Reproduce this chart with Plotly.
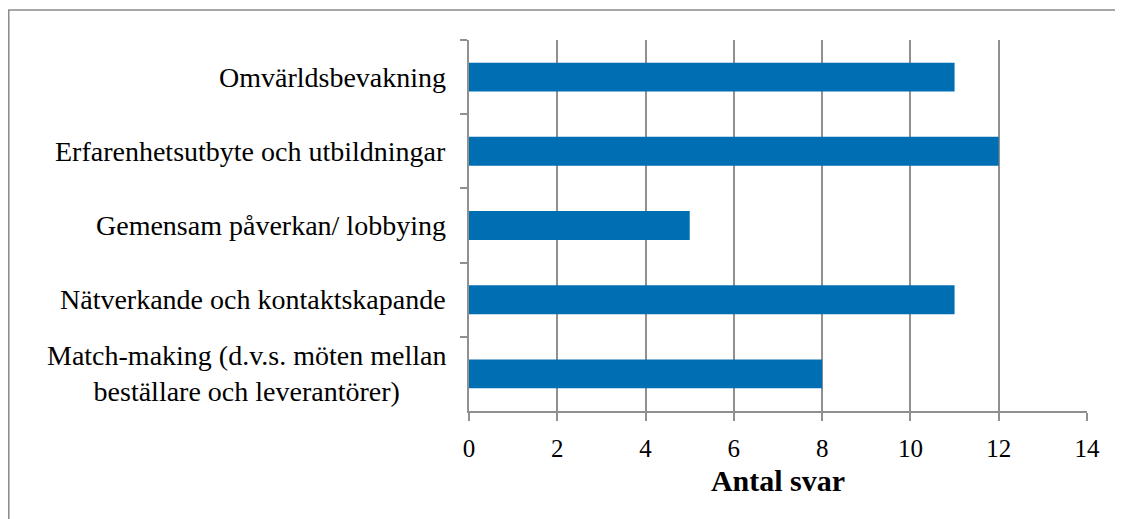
import plotly.graph_objects as go

categories = [
    "Omvärldsbevakning",
    "Erfarenhetsutbyte och utbildningar",
    "Gemensam påverkan/ lobbying",
    "Nätverkande och kontaktskapande",
    "Match-making (d.v.s. möten mellan<br>beställare och leverantörer)",
]
answers = [11, 12, 5, 11, 8]
x_ticks = [0, 2, 4, 6, 8, 10, 12, 14]

FONT = "Liberation Serif"
GRID = "#909090"
BAR = "#006EB2"


def build_figure():
    fig = go.Figure()
    fig.add_trace(go.Bar(
        x=answers,
        y=categories,
        orientation="h",
        marker=dict(color=BAR, line=dict(width=0)),
        hoverinfo="x+y",
    ))

    # category labels as annotations so that the two-line label stays centred
    for cat in categories:
        fig.add_annotation(
            x=0, xref="paper", y=cat, yref="y",
            text=cat, showarrow=False,
            xanchor="right", yanchor="middle", align="center",
            xshift=-21,
            font=dict(family=FONT, size=28, color="black"),
        )

    # outer frame of the chart area (only top and left visible)
    fig.add_shape(
        type="rect", xref="paper", yref="paper",
        x0=-0.7447, x1=1.08, y0=-0.35, y1=1.0809,
        line=dict(color="#8a8a8a", width=1.5),
        layer="below",
    )

    fig.update_layout(
        width=1115,
        height=511,
        margin=dict(l=461, r=36, t=32, b=108),
        plot_bgcolor="white",
        paper_bgcolor="white",
        bargap=0.61,
        showlegend=False,
        xaxis=dict(
            range=[0, 14],
            tickvals=x_ticks,
            ticktext=[str(v) for v in x_ticks],
            showgrid=True,
            gridcolor=GRID,
            gridwidth=1.6,
            zeroline=False,
            showline=True,
            linecolor=GRID,
            linewidth=1.6,
            ticks="outside",
            ticklen=8,
            tickcolor=GRID,
            tickwidth=1.6,
            ticklabelstandoff=6,
            tickfont=dict(family=FONT, size=25, color="black"),
            title=dict(
                text="<b>Antal svar</b>",
                font=dict(family=FONT, size=30, color="black"),
                standoff=9,
            ),
        ),
        yaxis=dict(
            categoryorder="array",
            categoryarray=categories,
            autorange="reversed",
            showticklabels=False,
            showgrid=False,
            zeroline=False,
            showline=True,
            linecolor=GRID,
            linewidth=1.6,
            ticks="outside",
            tickson="boundaries",
            ticklen=7,
            tickcolor=GRID,
            tickwidth=1.6,
        ),
    )
    return fig


fig = build_figure()
fig.write_html("out.html")
